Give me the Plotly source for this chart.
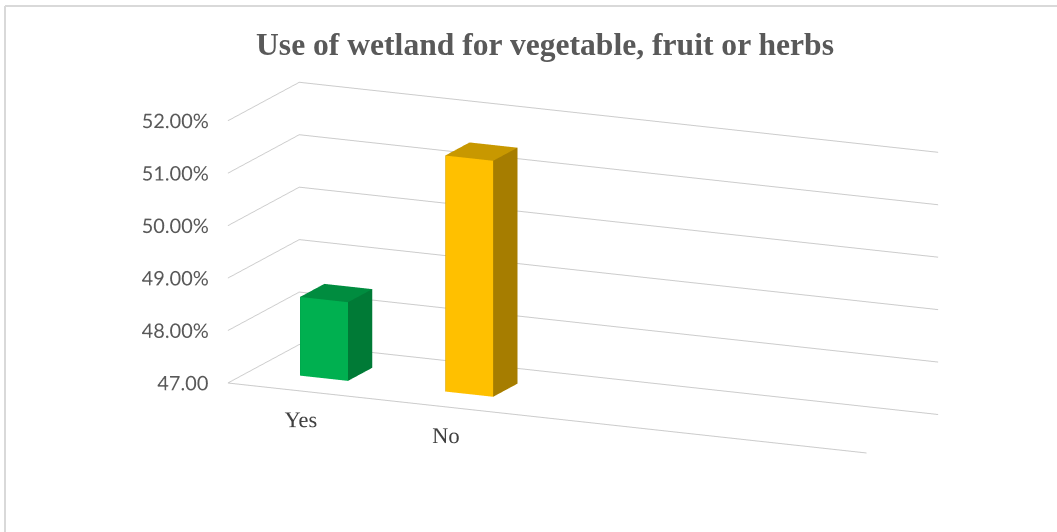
import plotly.graph_objects as go

# Survey answers and their shares (percent)
categories = ["Yes", "No"]
shares = [48.5, 51.5]
bar_colors = {
    "Yes": ("#00B050", "#008C3F", "#007A36"),   # front, top, side
    "No": ("#FFC000", "#C89800", "#A67D00"),
}

# Value axis
tick_values = [47, 48, 49, 50, 51, 52]
tick_labels = ["47.00", "48.00%", "49.00%", "50.00%", "51.00%", "52.00%"]

# Scene extents (category units across, depth units, value range)
x_span = 4.4
depth = 1.0
z_floor = 47.0
z_range = [46.3, 52.0]
bar_width = 0.33
bar_depth = (0.33, 0.67)
grid_color = "#CCCCCC"

fig = go.Figure()


def add_bar(center, value, colors):
    front, top, side = colors
    x0, x1 = center - bar_width / 2, center + bar_width / 2
    y0, y1 = bar_depth
    z0, z1 = z_floor, value
    xs = [x0, x1, x1, x0, x0, x1, x1, x0]
    ys = [y0, y0, y1, y1, y0, y0, y1, y1]
    zs = [z0, z0, z0, z0, z1, z1, z1, z1]
    tris = [
        (0, 1, 5, front), (0, 5, 4, front),   # front face
        (4, 5, 6, top), (4, 6, 7, top),       # top face
        (1, 2, 6, side), (1, 6, 5, side),     # right face
        (3, 2, 6, side), (3, 6, 7, side),     # back face
        (0, 3, 7, side), (0, 7, 4, side),     # left face
        (0, 1, 2, front), (0, 2, 3, front),   # bottom face
    ]
    fig.add_trace(go.Mesh3d(
        x=xs, y=ys, z=zs,
        i=[t[0] for t in tris], j=[t[1] for t in tris], k=[t[2] for t in tris],
        facecolor=[t[3] for t in tris],
        flatshading=True,
        lighting=dict(ambient=1.0, diffuse=0.0, specular=0.0, roughness=1.0, fresnel=0.0),
        hoverinfo="skip", showscale=False,
    ))


for idx, (cat, val) in enumerate(zip(categories, shares)):
    add_bar(idx + 0.5, val, bar_colors[cat])

# Front edge of the floor
fig.add_trace(go.Scatter3d(
    x=[0, x_span], y=[0, 0], z=[z_floor, z_floor],
    mode="lines", line=dict(color=grid_color, width=2),
    hoverinfo="skip", showlegend=False,
))

# Value labels along the front-left edge
fig.add_trace(go.Scatter3d(
    x=[0] * len(tick_values), y=[0] * len(tick_values), z=tick_values,
    mode="text", text=tick_labels, textposition="middle left",
    textfont=dict(family="Lato", size=20, color="#595959"),
    hoverinfo="skip", showlegend=False,
))

# Category labels below the front edge
fig.add_trace(go.Scatter3d(
    x=[i + 0.5 for i in range(len(categories))], y=[0] * len(categories),
    z=[46.45] * len(categories),
    mode="text", text=categories, textposition="middle center",
    textfont=dict(family="Liberation Serif", size=22.5, color="#404040"),
    hoverinfo="skip", showlegend=False,
))

hidden_axis = dict(visible=False, showgrid=False, zeroline=False, showline=False,
                   showticklabels=False, showspikes=False, showbackground=False,
                   title=dict(text=""))

fig.update_layout(
    width=1057, height=532,
    margin=dict(l=0, r=0, t=0, b=0),
    paper_bgcolor="white",
    showlegend=False,
    title=dict(
        text="<b>Use of wetland for vegetable, fruit or herbs</b>",
        x=545 / 1057, xanchor="center", xref="paper",
        y=1 - 44 / 532, yanchor="middle", yref="container",
        font=dict(family="Liberation Serif", size=31.6, color="#595959"),
    ),
    scene=dict(
        domain=dict(x=[0.103, 1.0], y=[0.0113, 0.9133]),
        bgcolor="white",
        aspectmode="manual",
        aspectratio=dict(x=2.92, y=0.724, z=1.284),
        xaxis=dict(hidden_axis, range=[0, x_span]),
        yaxis=dict(hidden_axis, range=[0, depth]),
        zaxis=dict(
            range=z_range, tickvals=tick_values, showgrid=True,
            gridcolor=grid_color, gridwidth=2, zeroline=False, showline=False,
            showticklabels=False, showspikes=False, showbackground=False,
            ticks="", title=dict(text=""),
        ),
        camera=dict(
            eye=dict(x=0.5885, y=-1.305, z=0.3587),
            center=dict(x=0, y=0, z=0),
            up=dict(x=0, y=0, z=1),
            projection=dict(type="orthographic"),
        ),
    ),
    shapes=[
        dict(type="line", xref="paper", yref="paper", x0=5 / 1057, x1=1.0,
             y0=1 - 6 / 532, y1=1 - 6 / 532, line=dict(color="#D9D9D9", width=2)),
        dict(type="line", xref="paper", yref="paper", x0=5 / 1057, x1=5 / 1057,
             y0=0, y1=1 - 6 / 532, line=dict(color="#D9D9D9", width=2)),
    ],
)

fig.write_html("out.html", config=dict(displayModeBar=False))
